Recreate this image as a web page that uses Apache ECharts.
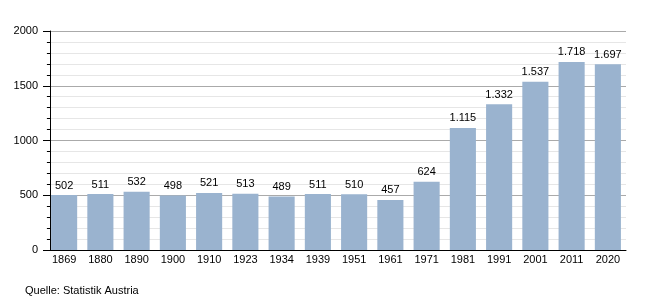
<!DOCTYPE html>
<html><head><meta charset="utf-8">
<script src="https://cdn.jsdelivr.net/npm/echarts@6/dist/echarts.min.js"></script>
<style>html,body{margin:0;padding:0;background:#fff}#c{width:650px;height:300px}</style>
</head><body><div id="c"></div>
<script>
const categories = ['1869','1880','1890','1900','1910','1923','1934','1939','1951','1961','1971','1981','1991','2001','2011','2020'];
const values = [502,511,532,498,521,513,489,511,510,457,624,1115,1332,1537,1718,1697];
const sourceText = 'Quelle: Statistik Austria';
function fmt(v){ return String(v).replace(/\B(?=(\d{3})+(?!\d))/g,'.'); }
const chart = echarts.init(document.getElementById('c'), null, {renderer:'canvas'});
chart.setOption({
  animation:false,
  textStyle:{fontFamily:'Liberation Sans, Arial, sans-serif'},
  title:{text:sourceText,left:20,top:280,textStyle:{fontSize:11,fontWeight:'normal',color:'#000'}},
  grid:{left:46,right:24,top:31,bottom:50},
  xAxis:{type:'category',data:categories,
    axisLine:{lineStyle:{color:'#000',width:1}},
    axisTick:{show:false},
    axisLabel:{color:'#000',fontSize:11,margin:4}},
  yAxis:{type:'value',min:0,max:2000,interval:500,offset:-4,
    axisLine:{show:true,lineStyle:{color:'#000'}},
    axisTick:{show:true,length:7,lineStyle:{color:'#000'}},
    minorTick:{show:true,splitNumber:5,length:3,lineStyle:{color:'#000'}},
    axisLabel:{color:'#000',fontSize:11,margin:12,formatter:v=>String(v)},
    splitLine:{lineStyle:{color:'#aaa'}},
    minorSplitLine:{show:true,lineStyle:{color:'#e6e6e6'}}},
  series:[{type:'bar',data:values,barCategoryGap:'28%',
    itemStyle:{color:'#9ab3cf'},
    label:{show:true,position:'top',color:'#000',fontSize:11,distance:4,formatter:p=>fmt(p.value)}}]
});
</script></body></html>
